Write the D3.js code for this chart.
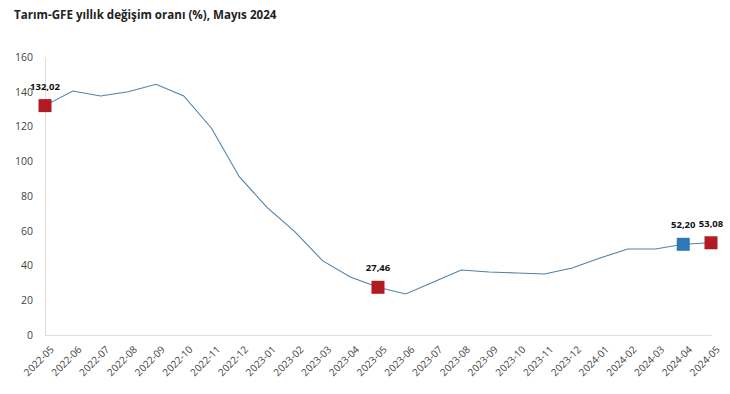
<!DOCTYPE html>
<html>
<head>
<meta charset="utf-8">
<script src="https://cdn.jsdelivr.net/npm/d3@7"></script>
<style>
  body { margin: 0; background: #fff; }
  text { font-family: "Open Sans", "Noto Sans", sans-serif; }
</style>
</head>
<body>
<script>
const months = ["2022-05","2022-06","2022-07","2022-08","2022-09","2022-10","2022-11","2022-12",
  "2023-01","2023-02","2023-03","2023-04","2023-05","2023-06","2023-07","2023-08","2023-09",
  "2023-10","2023-11","2023-12","2024-01","2024-02","2024-03","2024-04","2024-05"];
const values = [132.02,140.4,137.6,140.0,144.3,137.6,119.0,91.1,73.5,59.5,42.8,33.4,27.46,
  23.6,30.5,37.4,36.3,35.7,35.1,38.6,44.3,49.5,49.5,52.20,53.08];
const yTicks = [0,20,40,60,80,100,120,140,160];
// highlighted points: index and colour
const highlights = [
  {i: 0, color: "#b01c22"},
  {i: 12, color: "#b01c22"},
  {i: 23, color: "#2f78b7"},
  {i: 24, color: "#b01c22"}
];

const chart = {width: 730, height: 394, left: 45, right: 711, top: 57, bottom: 335};

const svg = d3.select("body").append("svg")
  .attr("width", chart.width)
  .attr("height", chart.height);

svg.append("text")
  .attr("x", 14).attr("y", 19)
  .attr("font-size", 11.6).attr("font-weight", "bold").attr("fill", "#222")
  .text("Tarım-GFE yıllık değişim oranı (%), Mayıs 2024");

const x = d3.scalePoint().domain(months).range([chart.left, chart.right]);
const y = d3.scaleLinear().domain([0, 160]).range([chart.bottom, chart.top]);

// y axis
const yAxis = svg.append("g")
  .attr("transform", `translate(${chart.left},0)`)
  .call(d3.axisLeft(y).tickValues(yTicks).tickSize(0).tickPadding(12));
yAxis.select(".domain").attr("stroke", "#ddd");
yAxis.selectAll("text").attr("font-size", 10.5).attr("fill", "#444");

// x axis
const xAxis = svg.append("g")
  .attr("transform", `translate(0,${chart.bottom})`)
  .call(d3.axisBottom(x).tickSize(0));
xAxis.select(".domain").attr("stroke", "#ddd");
xAxis.selectAll("text")
  .attr("font-size", 10).attr("fill", "#444")
  .attr("text-anchor", "end")
  .attr("dx", 0).attr("dy", 0)
  .attr("transform", "translate(7,13) rotate(-45)");

const line = d3.line()
  .x((d, i) => x(months[i]))
  .y(d => y(d));

svg.append("path")
  .attr("d", line(values))
  .attr("fill", "none")
  .attr("stroke", "#4f82aa")
  .attr("stroke-width", 1.1);

const size = 13;
svg.selectAll(".marker")
  .data(highlights)
  .enter().append("rect")
    .attr("class", "marker")
    .attr("x", d => x(months[d.i]) - size / 2)
    .attr("y", d => y(values[d.i]) - size / 2)
    .attr("width", size).attr("height", size)
    .attr("fill", d => d.color);

svg.selectAll(".label")
  .data(highlights)
  .enter().append("text")
    .attr("class", "label")
    .attr("x", d => x(months[d.i]))
    .attr("y", d => y(values[d.i]) - 16)
    .attr("text-anchor", "middle")
    .attr("font-size", 9.5).attr("font-weight", "bold").attr("fill", "#111")
    .text(d => values[d.i].toFixed(2).replace(".", ","));
</script>
</body>
</html>
